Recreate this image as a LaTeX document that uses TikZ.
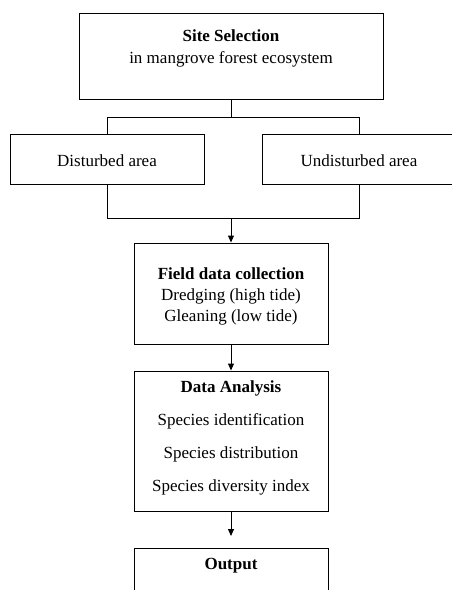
\documentclass[tikz,border=0pt]{standalone}
\usepackage{fontspec}
\setmainfont{Liberation Serif}
\usetikzlibrary{arrows.meta}
\begin{document}
\begin{tikzpicture}[x=1pt,y=-1pt,
  box/.style={draw=black,line width=1pt,minimum width=194pt,inner sep=0pt},
  txt/.style={anchor=base,inner sep=0pt,font=\fontsize{17}{20}\selectfont},
  bold/.style={txt,font=\fontsize{17}{20}\selectfont\bfseries},
  conn/.style={draw=black,line width=1pt},
  arr/.style={conn,-{Triangle[length=7pt,width=6pt]}}]
\useasboundingbox (0,0) rectangle (452,590);
\clip (0,0) rectangle (452,590);
\fill[white] (0,0) rectangle (452,590);
% boxes
\node[box,minimum width=304pt,minimum height=86pt] (site) at (231,56) {};
\node[box,minimum height=50pt] (dist) at (107,159) {};
\node[box,minimum height=50pt] (undist) at (359,159) {};
\node[box,minimum height=101pt] (field) at (231,293.5) {};
\node[box,minimum height=140pt] (data) at (231,441) {};
\node[box,minimum height=100pt] (out) at (231,598) {};
% texts
\node[bold] (t1) at (231,41.5) {Site Selection};
\node[txt] (t2) at (231,63) {in mangrove forest ecosystem};
\node[txt] (t3) at (107,166) {Disturbed area};
\node[txt] (t4) at (359,166) {Undisturbed area};
\node[bold] (t5) at (231,279) {Field data collection};
\node[txt] (t6) at (231,300) {Dredging (high tide)};
\node[txt] (t7) at (231,321) {Gleaning (low tide)};
\node[bold] (t8) at (231,392) {Data Analysis};
\node[txt] (t9) at (231,425) {Species identification};
\node[txt] (t10) at (231,458) {Species distribution};
\node[txt] (t11) at (231,491) {Species diversity index};
\node[bold] (t12) at (231,569) {Output};
% connectors
\coordinate (j1) at (231,117);
\coordinate (jl) at (107,117);
\coordinate (jr) at (359,117);
\coordinate (bl) at (107,218);
\coordinate (br) at (359,218);
\coordinate (bm) at (231,218);
\coordinate (otip) at (231,536);
\draw[conn] (site.south) -- (j1);
\draw[conn] (jl) -- (jr);
\draw[conn] (jl) -- (dist.north);
\draw[conn] (jr) -- (undist.north);
\draw[conn] (dist.south) -- (bl) -- (br) -- (undist.south);
\draw[arr] (bm) -- (field.north);
\draw[arr] (field.south) -- (data.north);
\draw[arr] (data.south) -- (otip);
\end{tikzpicture}
\end{document}
